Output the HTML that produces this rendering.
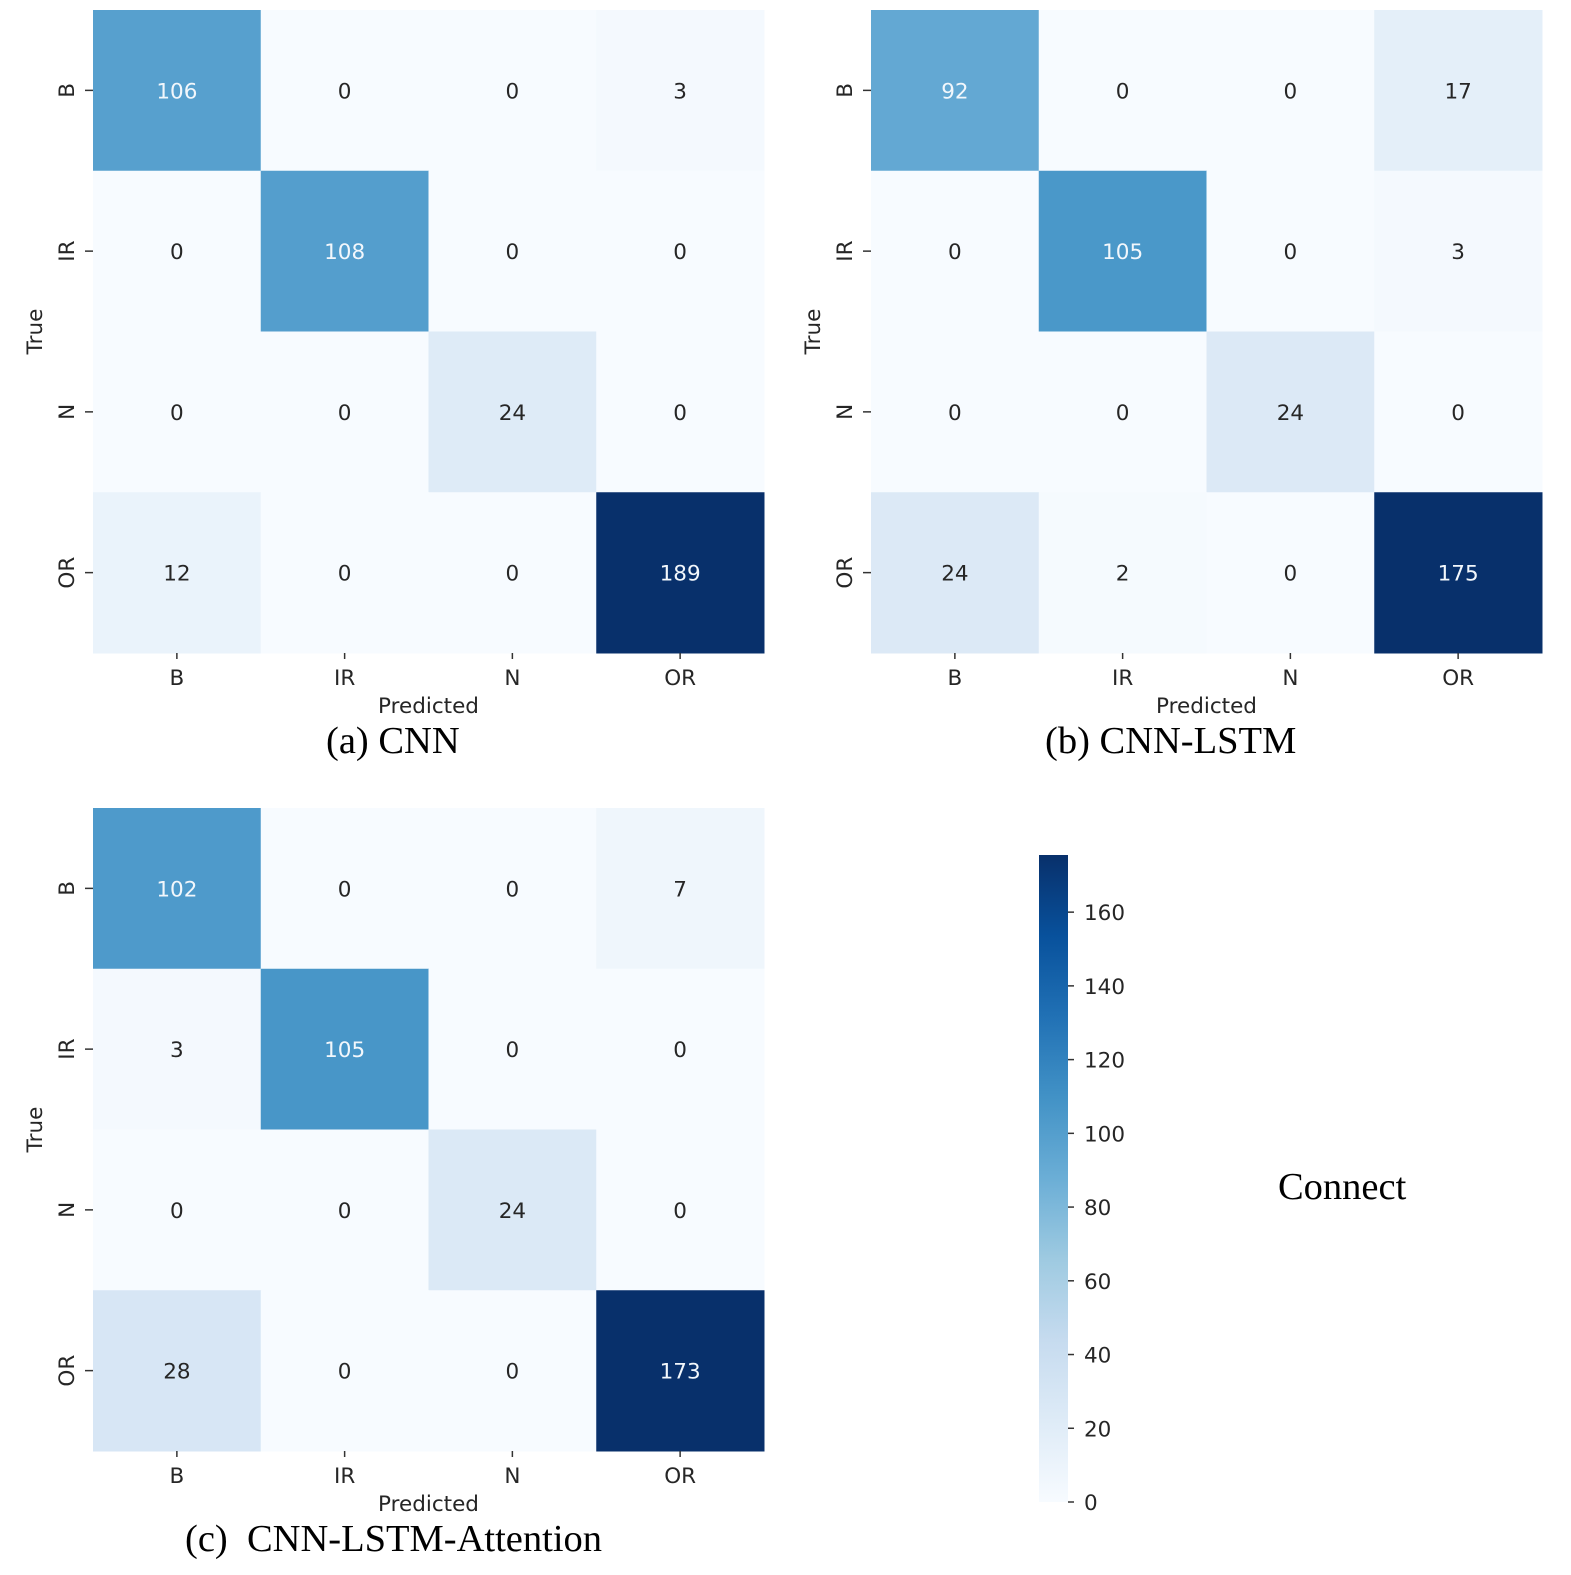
<!DOCTYPE html>
<html><head><meta charset="utf-8"><style>
body{margin:0;background:#fff;}
svg{display:block;}
.t{font-family:"DejaVu Sans","Liberation Sans",sans-serif;font-size:21.5px;fill:#262626;}
.cap{font-family:"Liberation Serif",serif;font-size:38.5px;fill:#000;white-space:pre;}
</style></head><body>
<svg id="c" width="1571" height="1575" xmlns="http://www.w3.org/2000/svg">
<defs><linearGradient id="cbg" x1="0" y1="1" x2="0" y2="0">
<stop offset="0" stop-color="#f7fbff"/><stop offset="0.125" stop-color="#deebf7"/><stop offset="0.25" stop-color="#c6dbef"/><stop offset="0.375" stop-color="#9ecae1"/><stop offset="0.5" stop-color="#6baed6"/><stop offset="0.625" stop-color="#4292c6"/><stop offset="0.75" stop-color="#2171b5"/><stop offset="0.875" stop-color="#08519c"/><stop offset="1" stop-color="#08306b"/></linearGradient></defs>
</svg>
<script>
const classes=["B","IR","N","OR"];
const cnnVals=[[106,0,0,3],[0,108,0,0],[0,0,24,0],[12,0,0,189]];
const lstmVals=[[92,0,0,17],[0,105,0,3],[0,0,24,0],[24,2,0,175]];
const attnVals=[[102,0,0,7],[3,105,0,0],[0,0,24,0],[28,0,0,173]];
const cbTicks=[0,20,40,60,80,100,120,140,160];
const cbMax=175.5;
const stops=["#f7fbff","#deebf7","#c6dbef","#9ecae1","#6baed6","#4292c6","#2171b5","#08519c","#08306b"];
function hex(h){return [1,3,5].map(i=>parseInt(h.substr(i,2),16));}
function blues(t){t=Math.max(0,Math.min(1,t));const p=t*8,i=Math.min(7,Math.floor(p)),f=p-i;const a=hex(stops[i]),b=hex(stops[i+1]);return "rgb("+a.map((v,k)=>Math.round(v+(b[k]-v)*f)).join(",")+")";}
const svg=document.getElementById('c');const NS="http://www.w3.org/2000/svg";
function el(tag,attrs,text){const e=document.createElementNS(NS,tag);for(const k in attrs)e.setAttribute(k,attrs[k]);if(text!==undefined)e.textContent=text;svg.appendChild(e);return e;}
function panel(vals,x0,y0,caption,capX,name){
 const W=671,H=643,cw=W/4,ch=H/4;let mx=0;vals.forEach(r=>r.forEach(v=>mx=Math.max(mx,v)));
 const xs=j=>x0+j*cw, ys=i=>y0+i*ch;
 vals.forEach((r,i)=>r.forEach((v,j)=>{
  const c=el('rect',{x:xs(j),y:ys(i),width:cw+0.5,height:ch+0.5,fill:blues(v/mx)});
  
  
  const t=el('text',{x:xs(j)+cw/2,y:ys(i)+ch/2+8,'text-anchor':'middle',class:'t',style:v/mx>0.5?'fill:#f2f7fc':''},v);
  
  
 }));
 classes.forEach((c,k)=>{
  const cy=ys(k)+ch/2;
  el('line',{x1:x0-8,x2:x0,y1:cy,y2:cy,stroke:'#333','stroke-width':1.5});
  const t=el('text',{x:0,y:0,'text-anchor':'middle',class:'t',transform:`translate(${x0-19},${cy}) rotate(-90)`},c);
  
  
  const cx=xs(k)+cw/2;
  el('line',{x1:cx,x2:cx,y1:y0+H,y2:y0+H+6,stroke:'#333','stroke-width':1.5});
  const u=el('text',{x:cx,y:y0+H+32,'text-anchor':'middle',class:'t'},c);
  
  
 });
 const xl=el('text',{x:x0+W/2,y:y0+H+60,'text-anchor':'middle',class:'t'},'Predicted');
 
 const yl=el('text',{x:0,y:0,'text-anchor':'middle',class:'t',transform:`translate(${x0-51},${y0+H/2}) rotate(-90)`},'True');
 
 const cp=el('text',{x:capX,y:y0+H+100,class:'cap'},caption);
 
}
panel(cnnVals,93,10,"(a) CNN",326,'cnn');
panel(lstmVals,871,10,"(b) CNN-LSTM",1045,'cnn-lstm');
panel(attnVals,93,808,"(c)\u00a0\u00a0CNN-LSTM-Attention",185,'cnn-lstm-attention');
const cbTop=855,cbBot=1502,cbX=1039,cbW=29;
const cy=v=>cbBot-(v/cbMax)*(cbBot-cbTop);
const bar=el('rect',{x:cbX,y:cbTop,width:cbW,height:cbBot-cbTop,fill:'url(#cbg)'});

cbTicks.forEach(v=>{
 el('line',{x1:cbX+cbW,x2:cbX+cbW+6,y1:cy(v),y2:cy(v),stroke:'#333','stroke-width':1.5});
 const t=el('text',{x:cbX+cbW+16,y:cy(v)+8,class:'t'},v);
 
});
const cn=el('text',{x:1278,y:1199,class:'cap'},'Connect');

</script>
</body></html>
